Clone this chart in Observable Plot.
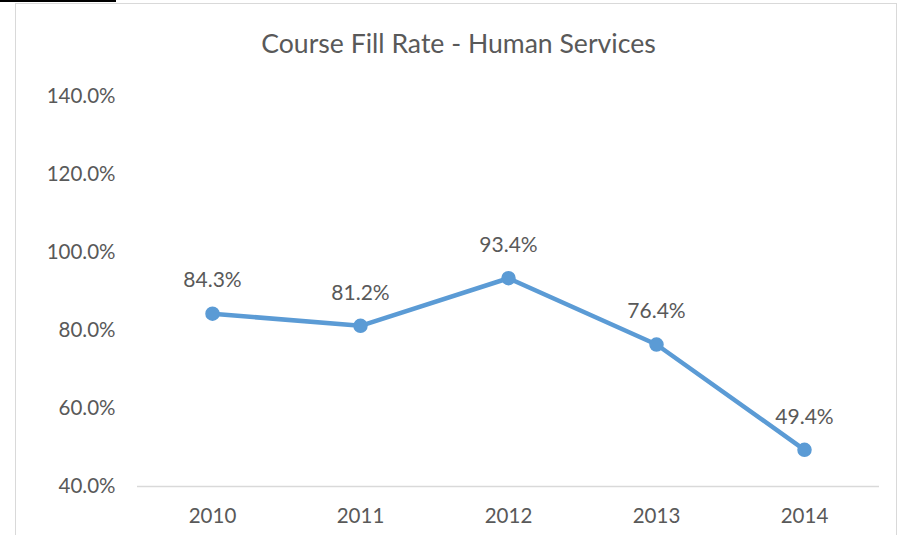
<!DOCTYPE html>
<html>
<head>
<meta charset="utf-8">
<script src="https://cdn.jsdelivr.net/npm/d3@7"></script>
<script src="https://cdn.jsdelivr.net/npm/@observablehq/plot@0.6"></script>
<style>
  html, body { margin: 0; padding: 0; background: #fff; }
  #wrap { position: relative; width: 903px; height: 535px; overflow: hidden; }
  #frame { position: absolute; left: 15px; top: 3px; width: 882px; height: 600px; border: 1px solid #d9d9d9; box-sizing: border-box; }
  #topline { position: absolute; left: 0; top: 0; width: 116px; height: 2px; background: #000; }
  #chart { position: absolute; left: 0; top: 0; }
</style>
</head>
<body>
<div id="wrap">
  <div id="frame"></div>
  <div id="topline"></div>
  <div id="chart"></div>
</div>
<script>
const title = "Course Fill Rate - Human Services";
const years = ["2010", "2011", "2012", "2013", "2014"];
const fillRates = [84.3, 81.2, 93.4, 76.4, 49.4];
const yTicks = [40, 60, 80, 100, 120, 140];

const data = years.map((y, i) => ({year: y, value: fillRates[i]}));
const FONT = "Lato, 'Open Sans', sans-serif";
const TEXT = "#595959";
const BLUE = "#5B9BD5";

const chart = Plot.plot({
  width: 903,
  height: 535,
  marginLeft: 137,
  marginRight: 24,
  marginTop: 96,
  marginBottom: 49,
  style: {fontFamily: FONT, fontSize: "20px", color: TEXT, background: "transparent"},
  x: {type: "point", domain: years, padding: 0.5, label: null},
  y: {domain: [40, 140], label: null},
  marks: [
    Plot.axisY({ticks: yTicks, tickSize: 0, tickPadding: 22, tickFormat: d => d.toFixed(1) + "%", fill: TEXT, fontSize: 20.5, label: null}),
    Plot.axisX({tickSize: 0, tickPadding: 22, fill: TEXT, fontSize: 20.5, label: null}),
    Plot.ruleY([40], {stroke: "#d9d9d9", strokeWidth: 1.5}),
    Plot.line(data, {x: "year", y: "value", stroke: BLUE, strokeWidth: 4.5}),
    Plot.dot(data, {x: "year", y: "value", r: 6.5, fill: BLUE, stroke: BLUE}),
    Plot.text(data, {x: "year", y: "value", text: d => d.value.toFixed(1) + "%", dy: -33, fill: TEXT, fontSize: 21}),
    Plot.text([title], {frameAnchor: "top", lineAnchor: "middle", dx: -50, dy: -52, fill: TEXT, fontSize: 26.6})
  ]
});
document.getElementById("chart").appendChild(chart);
</script>
</body>
</html>
